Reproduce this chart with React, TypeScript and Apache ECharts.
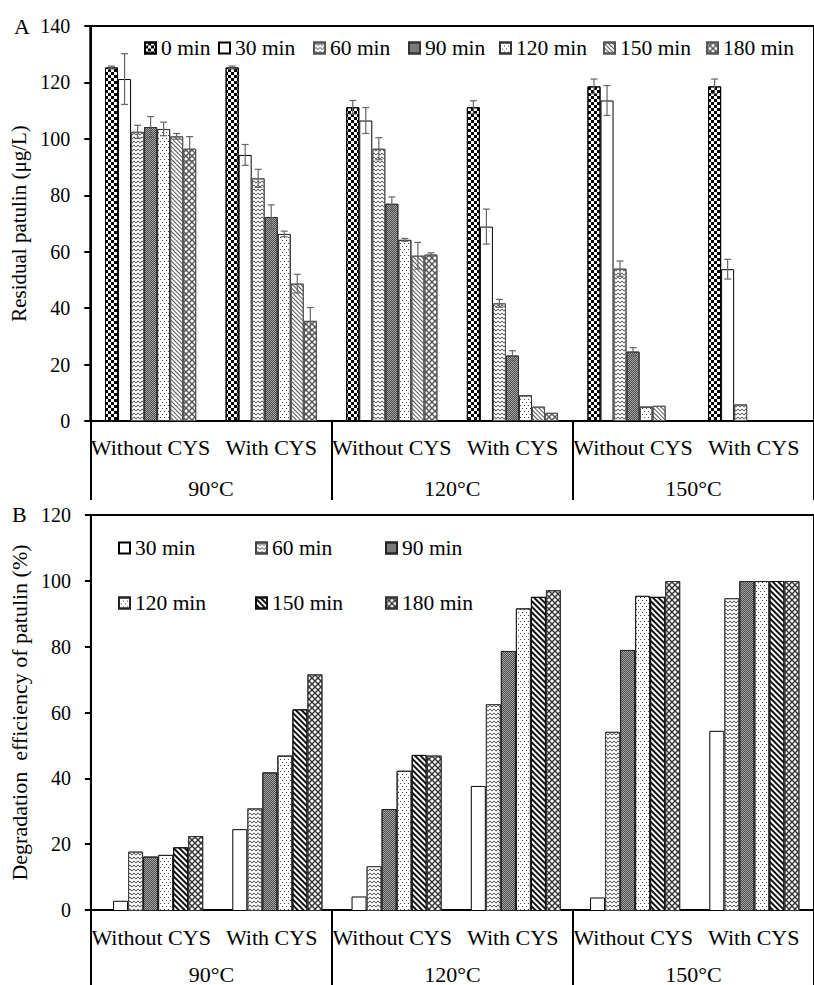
import React, { useEffect, useRef } from 'react';
import * as echarts from 'echarts';

// ---------- data ----------
const categories = ['Without CYS', 'With CYS', 'Without CYS', 'With CYS', 'Without CYS', 'With CYS'];
const temperatures = ['90°C', '120°C', '150°C'];
const yTicksA = [0, 140, 20];
const yTicksB = [0, 120, 20];

const timesA = ['0 min', '30 min', '60 min', '90 min', '120 min', '150 min', '180 min'];
const residual0 = [125.3, 125.3, 111.2, 111.2, 118.6, 118.6];
const residual30 = [121.2, 94.3, 106.5, 68.9, 113.6, 53.8];
const residual60 = [102.5, 86.0, 96.5, 41.7, 54.0, 5.9];
const residual90 = [104.2, 72.3, 77.0, 23.2, 24.6, null];
const residual120 = [103.5, 66.3, 64.2, 9.1, 5.1, null];
const residual150 = [100.9, 48.7, 58.6, 5.1, 5.4, null];
const residual180 = [96.5, 35.5, 59.0, 2.9, null, null];

const err0 = [0.5, 0.5, 2.4, 2.3, 2.6, 2.6];
const err30 = [9.0, 3.7, 4.6, 6.2, 5.3, 3.5];
const err60 = [2.3, 3.2, 3.9, 1.4, 2.7, 0];
const err90 = [3.7, 4.3, 2.4, 1.7, 1.4, 0];
const err120 = [2.4, 1.0, 0.5, 0, 0, 0];
const err150 = [1.0, 3.3, 4.7, 0, 0, 0];
const err180 = [4.3, 4.7, 0.6, 0, 0, 0];

const timesB = ['30 min', '60 min', '90 min', '120 min', '150 min', '180 min'];
const degr30 = [3.1, 24.8, 4.4, 37.9, 4.1, 54.6];
const degr60 = [18.0, 31.1, 13.6, 62.7, 54.3, 94.8];
const degr90 = [16.5, 42.0, 30.9, 78.8, 79.1, 100];
const degr120 = [17.0, 47.1, 42.5, 91.7, 95.5, 100];
const degr150 = [19.3, 61.1, 47.3, 95.2, 95.2, 100];
const degr180 = [22.7, 71.7, 47.1, 97.2, 100, 100];

// ---------- styles ----------
const FONT = 'Liberation Serif';
const GAP = 0.244;

const decalChecker = { symbol: 'rect', symbolSize: 1, color: '#000', dashArrayX: [[3, 3], [0, 3, 3, 0]], dashArrayY: [3, 0] };
const decalZigzag = { symbol: 'path://M0,2L2,0L4,2L4,3L2,1L0,3Z', symbolSize: 1, symbolKeepAspect: true, color: '#333', dashArrayX: [4, 0], dashArrayY: [4, 0] };
const decalDither = { symbol: 'rect', symbolSize: 1, color: '#4a4a4a', dashArrayX: [[1, 1], [0, 1, 1, 0]], dashArrayY: [1, 0] };
const decalDots = { symbol: 'rect', symbolSize: 1, color: '#444', dashArrayX: [[1, 3], [0, 2, 1, 1]], dashArrayY: [1, 2] };
const decalDiagLight = { symbol: 'rect', symbolSize: 1, color: '#555', dashArrayX: [1, 0], dashArrayY: [1, 2], rotation: Math.PI / 4 };
const decalDiagDark = { symbol: 'rect', symbolSize: 1, color: '#111', dashArrayX: [1, 0], dashArrayY: [2, 2], rotation: Math.PI / 4 };
const crossPath = 'path://M0,0L1,0L6,5L6,6L5,6L0,1Z M5,0L6,0L6,1L1,6L0,6L0,5Z';
const decalCross = { symbol: crossPath, symbolSize: 1, symbolKeepAspect: true, color: '#555', dashArrayX: [6, 0], dashArrayY: [6, 0] };
const decalCrossDark = { symbol: crossPath, symbolSize: 1, symbolKeepAspect: true, color: '#333', dashArrayX: [6, 0], dashArrayY: [6, 0] };

const styleA = [
  { color: '#fff', borderColor: '#000', decal: decalChecker },
  { color: '#fff', borderColor: '#000' },
  { color: '#fff', borderColor: '#555', decal: decalZigzag },
  { color: '#a8a8a8', borderColor: '#333', decal: decalDither },
  { color: '#fff', borderColor: '#333', decal: decalDots },
  { color: '#fff', borderColor: '#555', decal: decalDiagLight },
  { color: '#fff', borderColor: '#555', decal: decalCross },
];
const styleB = [
  { color: '#fff', borderColor: '#000' },
  { color: '#fff', borderColor: '#444', decal: decalZigzag },
  { color: '#a8a8a8', borderColor: '#222', decal: decalDither },
  { color: '#fff', borderColor: '#222', decal: decalDots },
  { color: '#fff', borderColor: '#111', decal: decalDiagDark },
  { color: '#fff', borderColor: '#333', decal: decalCrossDark },
];

const residualSeries = [residual0, residual30, residual60, residual90, residual120, residual150, residual180];
const errSeries = [err0, err30, err60, err90, err120, err150, err180];
const degrSeries = [degr30, degr60, degr90, degr120, degr150, degr180];

const legendAx = [144, 218, 313, 408, 499, 603, 706];
const legendBx = [118, 255, 385];
const legendBy = [537, 592];

function errorSeries(idx: number) {
  const means = residualSeries[idx];
  const errs = errSeries[idx];
  const data: number[][] = [];
  means.forEach((m, i) => {
    if (m != null && errs[i] > 0) data.push([i, m as number, errs[i]]);
  });
  return {
    type: 'custom',
    name: timesA[idx] + ' error',
    xAxisIndex: 0,
    yAxisIndex: 0,
    z: 5,
    silent: true,
    renderItem: (params: any, api: any) => {
      const cat = api.value(0);
      const mean = api.value(1);
      const err = api.value(2);
      const base = api.coord([cat, mean]);
      const band = api.size([1, 0])[0];
      const bw = (band * (1 - GAP)) / 7;
      const x = base[0] + (idx - 3) * bw;
      const top = api.coord([cat, mean + err])[1];
      const bot = api.coord([cat, mean - err])[1];
      const cap = 3.5;
      const st = { stroke: '#666', lineWidth: 1.2 };
      return {
        type: 'group',
        children: [
          { type: 'line', shape: { x1: x, y1: top, x2: x, y2: bot }, style: st },
          { type: 'line', shape: { x1: x - cap, y1: top, x2: x + cap, y2: top }, style: st },
          { type: 'line', shape: { x1: x - cap, y1: bot, x2: x + cap, y2: bot }, style: st },
        ],
      };
    },
    data,
  };
}

export default function App() {
  const ref = useRef<HTMLDivElement>(null);
  useEffect(() => {
    if (!ref.current) return;
    const chart = echarts.init(ref.current, null, { renderer: 'svg' });
    const axisLine = { show: true, lineStyle: { color: '#000', width: 2 } };
    const labelStyle = { color: '#000', fontFamily: FONT, fontSize: 22 };
    const tickLabel = { color: '#000', fontFamily: FONT, fontSize: 20, margin: 20 };

    const catAxis = (grid: number, margin: number) => ({
      type: 'category', gridIndex: grid, data: categories, position: 'bottom',
      axisLine, axisTick: { show: false },
      axisLabel: { ...labelStyle, interval: 0, margin },
    });
    const groupAxis = (grid: number, margin: number, len: number) => ({
      type: 'category', gridIndex: grid, data: temperatures, position: 'bottom',
      axisLine: { show: false },
      axisTick: { show: true, inside: false, length: len, lineStyle: { color: '#000', width: 2 } },
      axisLabel: { ...labelStyle, interval: 0, margin },
    });

    const legends: any[] = [];
    timesA.forEach((t, i) => {
      legends.push({
        data: [t], left: legendAx[i], top: 37, icon: 'rect', itemWidth: 11, itemHeight: 11,
        padding: 0, itemGap: 0, selectedMode: false,
        textStyle: { color: '#000', fontFamily: FONT, fontSize: 21.5 },
      });
    });
    timesB.forEach((t, i) => {
      legends.push({
        data: ['B ' + t], left: legendBx[i % 3], top: legendBy[Math.floor(i / 3)], icon: 'rect',
        itemWidth: 11, itemHeight: 11, padding: 0, itemGap: 0, selectedMode: false,
        formatter: (n: string) => n.replace('B ', ''),
        textStyle: { color: '#000', fontFamily: FONT, fontSize: 21.5 },
      });
    });

    const series: any[] = [];
    timesA.forEach((t, i) => {
      series.push({
        type: 'bar', name: t, xAxisIndex: 0, yAxisIndex: 0,
        data: residualSeries[i], barGap: '0%', barCategoryGap: GAP * 100 + '%',
        itemStyle: { ...styleA[i], borderWidth: 1 },
      });
    });
    timesA.forEach((t, i) => series.push(errorSeries(i)));
    timesB.forEach((t, i) => {
      series.push({
        type: 'bar', name: 'B ' + t, xAxisIndex: 4, yAxisIndex: 2,
        data: degrSeries[i], barGap: '0%', barCategoryGap: GAP * 100 + '%',
        itemStyle: { ...styleB[i], borderWidth: 1 },
      });
    });

    chart.setOption({
      animation: false,
      backgroundColor: '#fff',
      textStyle: { fontFamily: FONT },
      grid: [
        { left: 90.3, top: 26, width: 734, height: 395, show: true, borderColor: '#000', borderWidth: 2, backgroundColor: 'transparent' },
        { left: 90.3, top: 515, width: 734, height: 396, show: true, borderColor: '#000', borderWidth: 2, backgroundColor: 'transparent' },
        { left: 98.5, top: 515, width: 736, height: 396 },
      ],
      xAxis: [
        catAxis(0, 15),
        groupAxis(0, 56, 79),
        catAxis(1, 16),
        groupAxis(1, 53, 80),
        { type: 'category', gridIndex: 2, data: categories, show: false },
      ],
      yAxis: [
        {
          type: 'value', gridIndex: 0, min: yTicksA[0], max: yTicksA[1], interval: yTicksA[2],
          axisLine, axisTick: { show: true, inside: false, length: 6, lineStyle: { color: '#000', width: 2 } },
          splitLine: { show: false }, axisLabel: tickLabel,
          name: 'Residual patulin (μg/L)', nameLocation: 'middle', nameRotate: 90, nameGap: 56,
          nameTextStyle: { color: '#000', fontFamily: FONT, fontSize: 21 },
        },
        {
          type: 'value', gridIndex: 1, min: yTicksB[0], max: yTicksB[1], interval: yTicksB[2],
          axisLine, axisTick: { show: true, inside: false, length: 6, lineStyle: { color: '#000', width: 2 } },
          splitLine: { show: false }, axisLabel: tickLabel,
          name: 'Degradation  efficiency of patulin (%)', nameLocation: 'middle', nameRotate: 90, nameGap: 56,
          nameTextStyle: { color: '#000', fontFamily: FONT, fontSize: 22 },
        },
        { type: 'value', gridIndex: 2, min: yTicksB[0], max: yTicksB[1], show: false },
      ],
      legend: legends,
      graphic: [
        { type: 'text', left: 14, top: 15, style: { text: 'A', font: `22px ${FONT}`, fill: '#000' } },
        { type: 'text', left: 12, top: 503, style: { text: 'B', font: `22px ${FONT}`, fill: '#000' } },
      ],
      series,
    });
    return () => chart.dispose();
  }, []);
  return <div ref={ref} style={{ position: 'absolute', left: 0, top: 0, width: 814, height: 985 }} />;
}
